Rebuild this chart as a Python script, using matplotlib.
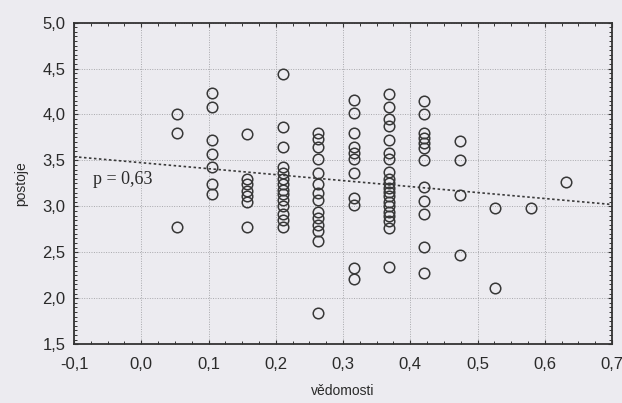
import matplotlib
matplotlib.use("Agg")
import matplotlib.pyplot as plt
import numpy as np
from matplotlib.ticker import MultipleLocator, FuncFormatter

# x positions of the point columns (vědomosti)
col_x = [1/19, 2/19, 3/19, 4/19, 5/19, 6/19, 7/19, 8/19, 9/19, 10/19, 11/19, 12/19]
# y values (postoje) in each column
col_y = [
    [4.00, 3.80, 2.78],
    [4.23, 4.08, 3.72, 3.57, 3.43, 3.24, 3.13],
    [3.79, 3.30, 3.24, 3.17, 3.11, 3.05, 2.77],
    [4.44, 3.86, 3.65, 3.43, 3.36, 3.30, 3.24, 3.18, 3.13, 3.07, 3.00, 2.92, 2.85, 2.77],
    [3.80, 3.73, 3.65, 3.51, 3.36, 3.24, 3.14, 3.07, 2.94, 2.87, 2.80, 2.73, 2.62, 1.84],
    [4.16, 4.02, 3.80, 3.65, 3.58, 3.51, 3.36, 3.09, 3.01, 2.33, 2.21],
    [4.22, 4.08, 3.95, 3.87, 3.72, 3.58, 3.51, 3.37, 3.30, 3.25, 3.20, 3.16, 3.11,
     3.05, 3.00, 2.94, 2.89, 2.84, 2.76, 2.34],
    [4.15, 4.01, 3.80, 3.74, 3.69, 3.63, 3.50, 3.21, 3.06, 2.92, 2.56, 2.27],
    [3.71, 3.50, 3.12, 2.47],
    [2.98, 2.11],
    [2.98],
    [3.26],
]
# fitted line (value at x=-0.1 and x=0.7)
fit_x = [-0.1, 0.7]
fit_y = [3.54, 3.02]
annotation = "p = 0,63"

xs = np.concatenate([[x] * len(ys) for x, ys in zip(col_x, col_y)])
ys = np.concatenate(col_y)

bg = "#ecebf0"
fig = plt.figure(figsize=(6.22, 4.03), dpi=100, facecolor=bg)
ax = fig.add_axes([0.119, 0.146, 0.865, 0.798])
ax.set_facecolor(bg)

ax.plot(xs, ys, linestyle="none", marker="o", markersize=7.6,
        markerfacecolor="none", markeredgecolor="#383838", markeredgewidth=1.1, zorder=3)
ax.plot(fit_x, fit_y, linestyle=(0, (1.5, 1.5)), color="#3a3a3a", linewidth=1.2, zorder=2)

ax.set_xlim(-0.1, 0.7)
ax.set_ylim(1.5, 5.0)
ax.xaxis.set_major_locator(MultipleLocator(0.1))
ax.xaxis.set_minor_locator(MultipleLocator(0.025))
ax.yaxis.set_major_locator(MultipleLocator(0.5))
ax.yaxis.set_minor_locator(MultipleLocator(0.05))
ax.xaxis.set_major_formatter(FuncFormatter(lambda v, p: f"{v:.1f}".replace(".", ",").replace("-0,0", "0,0")))
ax.yaxis.set_major_formatter(FuncFormatter(lambda v, p: f"{v:.1f}".replace(".", ",")))

ax.grid(True, which="major", linestyle=(0, (1, 1.5)), color="#a8a8ac", linewidth=0.7)
ax.tick_params(which="both", direction="in", top=True, right=True, color="#333333",
               labelsize=12, labelcolor="#2a2a2a")
ax.tick_params(axis="x", which="major", length=3, width=0.8, pad=9)
ax.tick_params(axis="y", which="major", length=3, width=0.8, pad=6)
ax.tick_params(which="minor", length=2.5, width=0.7)
for s in ax.spines.values():
    s.set_color("#333333")
    s.set_linewidth(1.3)

for lab in ax.get_xticklabels() + ax.get_yticklabels():
    lab.set_family("Liberation Sans")

ax.set_xlabel("vědomosti", fontsize=10, family="Liberation Sans", color="#2a2a2a", labelpad=9)
ax.set_ylabel("postoje", fontsize=10, family="Liberation Sans", color="#2a2a2a", labelpad=10)

ax.text(-0.028, 3.29, annotation, fontsize=13, family="Liberation Serif", color="#2a2a2a",
        ha="center", va="center")

fig.savefig("out.png", dpi=100, facecolor=bg)
